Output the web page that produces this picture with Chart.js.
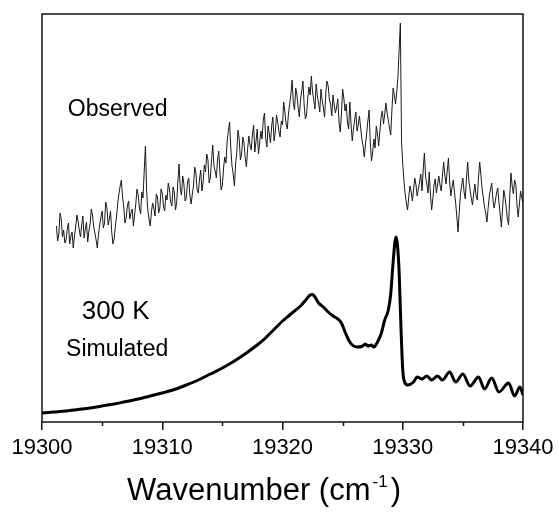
<!DOCTYPE html>
<html lang="en">
<head>
<meta charset="UTF-8">
<title>Observed vs simulated band</title>
<script src="https://cdn.jsdelivr.net/npm/chart.js"></script>
<style>
  html, body { margin: 0; padding: 0; background: #fff; }
</style>
</head>
<body>
<canvas id="spec" width="559" height="512"></canvas>
<script>
  // x axis
  const xMin = 19300, xMax = 19340;
  const xMinor = [19305, 19315, 19325, 19335];

  // observed trace, sampled every 0.1 cm-1 from 19301.2 (arbitrary intensity)
  const obsStart = 19301.2, obsStep = 0.1;
  const observed = [
    196,181,188,209,203,185,192,179,182,193,199,178,186,190,174,186,195,207,201,192,
    185,197,206,184,193,200,180,191,198,213,207,195,189,182,174,188,197,205,211,194,
    199,220,214,197,203,211,190,178,183,196,205,219,228,236,242,225,215,199,204,216,
    221,203,209,213,196,207,218,233,227,214,208,230,224,251,276,231,212,203,196,210,
    219,214,206,228,225,209,214,233,229,216,211,227,222,239,233,220,216,235,230,212,
    219,241,258,233,227,246,238,221,224,240,244,226,218,228,236,255,249,232,229,243,
    252,231,240,257,250,268,262,239,244,262,277,256,251,244,263,271,248,232,237,254,
    265,259,281,291,300,274,256,248,236,258,270,292,283,262,268,285,279,264,255,273,
    286,277,272,288,297,270,281,293,268,279,291,283,302,309,284,275,296,288,279,296,
    305,281,290,307,300,291,285,301,297,320,310,298,293,309,318,328,342,319,312,334,
    327,315,305,322,331,341,317,303,307,324,335,327,346,330,322,313,338,326,319,310,
    333,322,314,305,329,341,336,322,318,306,327,317,309,315,323,300,290,308,333,324,
    311,318,300,293,320,298,281,293,302,310,291,297,306,294,283,276,265,278,289,301,
    312,279,261,270,283,274,296,288,276,291,305,311,298,308,319,309,302,294,287,312,
    334,327,318,330,345,372,399,280,258,241,228,219,212,225,236,230,221,233,244,237,
    226,233,240,248,231,252,269,245,238,229,250,228,212,223,237,243,229,238,246,237,
    231,246,260,247,238,251,264,240,226,235,242,230,219,205,190,211,228,237,244,230,
    223,244,260,241,232,224,217,229,238,226,222,245,260,247,233,224,215,209,200,214,
    226,233,239,222,214,221,229,234,220,208,195,213,232,225,215,203,197,226,249,236,
    228,242,238,217,205,218,231,224,219
  ];

  // simulated 300 K spectrum
  const simX = [
    19300, 19301, 19302, 19303, 19304, 19305, 19306, 19307, 19308, 19309,
    19310, 19311, 19312, 19313, 19314, 19315, 19316, 19317, 19318, 19318.5,
    19319, 19319.5, 19320, 19320.5, 19321, 19321.5, 19322, 19322.3, 19322.5, 19322.7,
    19323, 19323.4, 19323.8, 19324.2, 19324.6, 19324.9, 19325.2, 19325.5, 19325.8, 19326.2,
    19326.6, 19326.9, 19327.1, 19327.4, 19327.6, 19327.9, 19328.2, 19328.5, 19328.8, 19329.0,
    19329.2, 19329.35, 19329.45, 19329.55, 19329.7, 19329.85, 19330.0, 19330.15, 19330.4, 19330.9,
    19331.2, 19331.6, 19332.0, 19332.4, 19332.9, 19333.3, 19333.9, 19334.4, 19335.0, 19335.6,
    19336.3, 19336.8, 19337.4, 19338.0, 19338.8, 19339.3, 19339.75, 19340
  ];
  const simY = [
    9, 10, 11, 12.5, 14, 16, 18, 20.5, 23, 26,
    29, 32.5, 37, 42, 48, 54, 61, 69, 78, 83,
    89, 95, 101, 106, 111, 116, 123, 127, 127.5, 125,
    119, 115, 110, 106, 103, 99, 90, 82, 77, 75,
    75.5, 78, 76, 77, 75, 80, 88, 102, 112, 128,
    160, 180, 185, 178, 150, 95, 52, 40, 37, 40,
    45, 43, 46, 42, 46, 42, 50, 40, 48, 36,
    45, 33, 44, 30, 39, 26, 35, 27
  ];

  const notes = [
    { text: 'Observed', x: 19302.15, y: 312, size: 23 },
    { text: '300 K', x: 19303.3, y: 110, size: 26 },
    { text: 'Simulated', x: 19302.0, y: 72, size: 23 }
  ];

  const FONT = '"Liberation Sans", Arial, sans-serif';

  const obsData = observed.map((v, i) => ({ x: +(obsStart + i * obsStep).toFixed(2), y: v }));
  const simData = simX.map((x, i) => ({ x: x, y: simY[i] }));

  const framePlugin = {
    id: 'frame',
    afterDatasetsDraw(chart) {
      const { ctx, chartArea: a, scales } = chart;
      ctx.save();
      ctx.strokeStyle = '#111';
      ctx.lineWidth = 1.5;
      ctx.strokeRect(a.left, a.top, a.right - a.left, a.bottom - a.top);
      // minor ticks
      ctx.beginPath();
      xMinor.forEach(v => {
        const px = Math.round(scales.x.getPixelForValue(v)) + 0.5;
        ctx.moveTo(px, a.bottom);
        ctx.lineTo(px, a.bottom + 4);
      });
      ctx.stroke();
      ctx.restore();
    },
    afterDraw(chart) {
      const { ctx, scales } = chart;
      ctx.save();
      ctx.fillStyle = '#000';
      ctx.textBaseline = 'middle';
      ctx.textAlign = 'left';
      notes.forEach(n => {
        ctx.font = n.size + 'px ' + FONT;
        ctx.fillText(n.text, scales.x.getPixelForValue(n.x), scales.y.getPixelForValue(n.y));
      });
      // axis title with superscript
      ctx.textBaseline = 'alphabetic';
      const main = 'Wavenumber (cm', sup = '-1', tail = ')';
      ctx.font = '31px ' + FONT;
      const w1 = ctx.measureText(main).width;
      const w3 = ctx.measureText(tail).width;
      ctx.font = '17px ' + FONT;
      const w2 = ctx.measureText(sup).width;
      const total = w1 + 2 + w2 + 3 + w3;
      const x0 = 264 - total / 2;
      const base = 500;
      ctx.font = '31px ' + FONT;
      ctx.fillText(main, x0, base);
      ctx.font = '17px ' + FONT;
      ctx.fillText(sup, x0 + w1 + 2, base - 13);
      ctx.font = '31px ' + FONT;
      ctx.fillText(tail, x0 + w1 + 2 + w2 + 3, base);
      ctx.restore();
    }
  };

  new Chart(document.getElementById('spec'), {
    type: 'line',
    data: {
      datasets: [
        { label: 'Observed', data: obsData, borderColor: '#1a1a1a', borderWidth: 1,
          pointRadius: 0, tension: 0 },
        { label: 'Simulated', data: simData, borderColor: '#000', borderWidth: 3,
          pointRadius: 0, cubicInterpolationMode: 'monotone', borderJoinStyle: 'round' }
      ]
    },
    options: {
      responsive: false,
      animation: false,
      layout: { padding: { left: 42, right: 36, top: 14, bottom: 0 } },
      plugins: { legend: { display: false }, tooltip: { enabled: false } },
      scales: {
        x: {
          type: 'linear',
          min: xMin, max: xMax,
          grid: { drawOnChartArea: false, tickLength: 8, color: '#111', lineWidth: 1.5 },
          border: { display: false },
          ticks: { stepSize: 10, autoSkip: false, maxRotation: 0, padding: 5, color: '#000',
            font: { family: FONT, size: 22 }, callback: v => String(v) },
          afterFit: s => { s.height = 90; s.paddingLeft = 0; s.paddingRight = 0; }
        },
        y: { display: false, min: 0, max: 408 }
      }
    },
    plugins: [framePlugin]
  });
</script>
</body>
</html>
